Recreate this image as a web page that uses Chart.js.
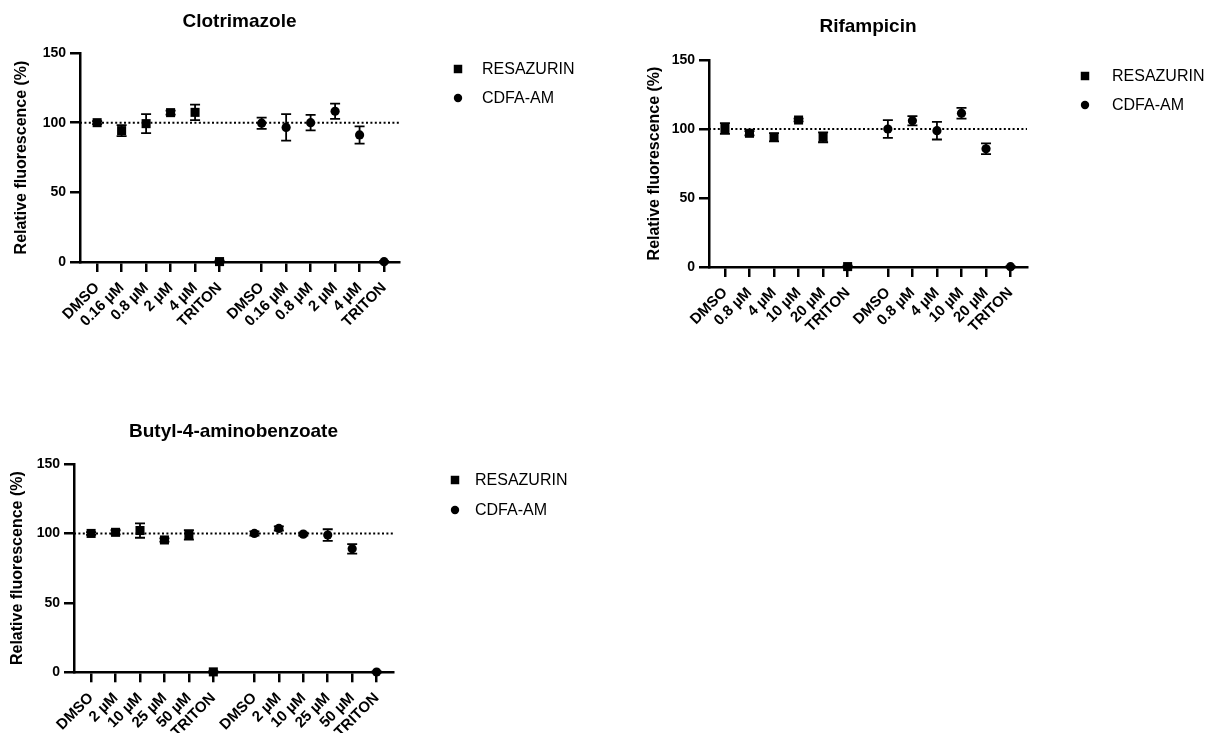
<!DOCTYPE html>
<html>
<head>
<meta charset="utf-8">
<script src="https://cdn.jsdelivr.net/npm/chart.js@4.4.0/dist/chart.umd.min.js"></script>
<style>
  html, body { margin: 0; padding: 0; background: #fff; }
  body { width: 1209px; height: 733px; position: relative; overflow: hidden; }
  .box { position: absolute; }
</style>
</head>
<body>
<div class="box" style="left:0;top:0;width:620px;height:350px"><canvas id="c1"></canvas></div>
<div class="box" style="left:630px;top:0;width:579px;height:350px"><canvas id="c2"></canvas></div>
<div class="box" style="left:0;top:380px;width:620px;height:353px"><canvas id="c3"></canvas></div>
<script>
// ---------------- data ----------------
const seriesNames = ['RESAZURIN', 'CDFA-AM'];
const yTickValues = [0, 50, 100, 150];
const yAxisTitle = 'Relative fluorescence (%)';
const referenceLevel = 100;

const clotrimazoleTitle = 'Clotrimazole';
const clotrimazoleLabels = ['DMSO', '0.16 µM', '0.8 µM', '2 µM', '4 µM', 'TRITON'];
const clotrimazoleResazurin = [100, 94.3, 99.3, 107.2, 107.4, 0.3];
const clotrimazoleResazurinErr = [1, 4, 6.8, 1.5, 5.6, 0.6];
const clotrimazoleCdfa = [99.6, 96.6, 100, 108.2, 91.2, 0.2];
const clotrimazoleCdfaErr = [4, 9.5, 5.6, 5.5, 6.2, 0.4];

const rifampicinTitle = 'Rifampicin';
const rifampicinLabels = ['DMSO', '0.8 µM', '4 µM', '10 µM', '20 µM', 'TRITON'];
const rifampicinResazurin = [100.4, 96.9, 94, 106.5, 94, 0.3];
const rifampicinResazurinErr = [3.9, 1.5, 3, 1, 3.6, 0.6];
const rifampicinCdfa = [100, 106, 98.8, 111.4, 85.7, 0.2];
const rifampicinCdfaErr = [6.4, 3.4, 6.4, 3.9, 3.9, 0.4];

const butylTitle = 'Butyl-4-aminobenzoate';
const butylLabels = ['DMSO', '2 µM', '10 µM', '25 µM', '50 µM', 'TRITON'];
const butylResazurin = [100, 100.8, 102.1, 95.3, 99, 0.3];
const butylResazurinErr = [1, 1.5, 5.2, 1.2, 3.4, 0.6];
const butylCdfa = [100, 103.6, 99.5, 98.8, 88.9, 0.2];
const butylCdfaErr = [1.5, 1.5, 1, 4.2, 3.4, 0.4];

// ---------------- rendering ----------------
const FONT = "'Liberation Sans', Arial, Helvetica, sans-serif";
Chart.defaults.font.family = FONT;
Chart.defaults.color = '#000';

const errorBarPlugin = {
  id: 'errorBars',
  beforeDatasetsDraw(chart) {
    const { ctx } = chart;
    const xs = chart.scales.x, ys = chart.scales.y;
    ctx.save();
    ctx.strokeStyle = '#000';
    ctx.lineWidth = 1.8;
    chart.data.datasets.forEach(ds => {
      if (!ds.errors) return;
      ds.data.forEach((p, i) => {
        const e = ds.errors[i];
        if (!e) return;
        const px = xs.getPixelForValue(p.x);
        const yt = ys.getPixelForValue(p.y + e);
        const yb = ys.getPixelForValue(p.y - e);
        ctx.beginPath();
        ctx.moveTo(px, yt); ctx.lineTo(px, yb);
        ctx.moveTo(px - 5, yt); ctx.lineTo(px + 5, yt);
        ctx.moveTo(px - 5, yb); ctx.lineTo(px + 5, yb);
        ctx.stroke();
      });
    });
    ctx.restore();
  }
};

function drawMarker(ctx, style, radius, x, y) {
  ctx.fillStyle = '#000';
  if (Chart.helpers && Chart.helpers.drawPoint) {
    Chart.helpers.drawPoint(ctx, { pointStyle: style, radius: radius, rotation: 0, borderWidth: 0 }, x, y);
  } else {
    ctx.beginPath();
    if (style === 'rect') {
      const s = radius * Math.SQRT1_2;
      ctx.rect(x - s, y - s, 2 * s, 2 * s);
    } else {
      ctx.arc(x, y, radius, 0, Math.PI * 2);
    }
    ctx.fill();
  }
}

const sideLegendPlugin = {
  id: 'sideLegend',
  afterDraw(chart, args, opts) {
    const { ctx, chartArea } = chart;
    const x0 = chartArea.right + opts.dx;
    let y = chartArea.top + opts.dy;
    ctx.save();
    ctx.font = '16px ' + FONT;
    ctx.textBaseline = 'middle';
    ctx.textAlign = 'left';
    chart.data.datasets.forEach(ds => {
      if (!ds.inLegend) return;
      drawMarker(ctx, ds.pointStyle, ds.legendRadius, x0, y);
      ctx.fillStyle = '#000';
      ctx.fillText(ds.label, x0 + opts.textGap, y + 0.5);
      y += opts.spacing;
    });
    ctx.restore();
  }
};

function buildChart(id, spec) {
  const n = spec.labels.length;
  const toPoints = (vals, g) => vals.map((v, i) => ({ x: g * spec.groupGap + i, y: v }));
  const tickPositions = [];
  const tickLabels = [];
  for (let g = 0; g < 2; g++) {
    for (let i = 0; i < n; i++) {
      tickPositions.push(g * spec.groupGap + i);
      tickLabels.push(spec.labels[i]);
    }
  }
  const axisGrid = { display: true, drawOnChartArea: false, drawTicks: true, tickLength: 10, tickWidth: 2.5, tickColor: '#000', color: '#000', lineWidth: 2.5 };
  const axisBorder = { display: true, width: 2.5, color: '#000' };
  new Chart(document.getElementById(id), {
    type: 'scatter',
    data: {
      datasets: [
        {
          label: 'reference', type: 'line',
          data: [{ x: spec.xMin, y: referenceLevel }, { x: spec.xMax, y: referenceLevel }],
          borderColor: '#000', borderWidth: 2, borderDash: [2, 2.4], pointRadius: 0,
          fill: false, order: 3, clip: false
        },
        {
          label: seriesNames[0], data: toPoints(spec.res, 0), errors: spec.resErr,
          pointStyle: 'rect', pointRadius: 6.4, backgroundColor: '#000', borderColor: '#000',
          borderWidth: 0, clip: false, order: 1, inLegend: true, legendRadius: 6
        },
        {
          label: seriesNames[1], data: toPoints(spec.cdfa, 1), errors: spec.cdfaErr,
          pointStyle: 'circle', pointRadius: 4.6, backgroundColor: '#000', borderColor: '#000',
          borderWidth: 0, clip: false, order: 1, inLegend: true, legendRadius: 4.2
        }
      ]
    },
    options: {
      responsive: true,
      maintainAspectRatio: false,
      animation: false,
      events: [],
      layout: { padding: spec.padding },
      plugins: {
        legend: { display: false },
        tooltip: { enabled: false },
        title: {
          display: true, text: spec.title, fullSize: false, color: '#000',
          font: { family: FONT, size: 19, weight: 'bold', lineHeight: 1.2 },
          padding: { top: 0, bottom: spec.titleGap }
        },
        sideLegend: spec.legend
      },
      scales: {
        x: {
          type: 'linear', min: spec.xMin, max: spec.xMax,
          afterBuildTicks: s => { s.ticks = tickPositions.map(v => ({ value: v })); },
          afterFit: s => { s.height = spec.xHeight; },
          ticks: {
            autoSkip: false, maxRotation: 45, minRotation: 45, padding: 7, color: '#000',
            font: { family: FONT, size: 15, weight: 'bold' },
            callback: (v, i) => tickLabels[i]
          },
          grid: axisGrid, border: axisBorder
        },
        y: {
          type: 'linear', min: 0, max: 150,
          afterBuildTicks: s => { s.ticks = yTickValues.map(v => ({ value: v })); },
          afterFit: s => { s.width = spec.yWidth; },
          ticks: { padding: 4, color: '#000', font: { family: FONT, size: 14, weight: 'bold' } },
          title: {
            display: true, text: yAxisTitle, color: '#000',
            font: { family: FONT, size: 16, weight: 'bold', lineHeight: 1.2 },
            padding: { top: spec.yTitlePad, bottom: 0 }
          },
          grid: axisGrid, border: axisBorder
        }
      }
    },
    plugins: [errorBarPlugin, sideLegendPlugin]
  });
}

buildChart('c1', {
  title: clotrimazoleTitle, labels: clotrimazoleLabels,
  res: clotrimazoleResazurin, resErr: clotrimazoleResazurinErr,
  cdfa: clotrimazoleCdfa, cdfaErr: clotrimazoleCdfaErr,
  groupGap: 6.72, xMin: -0.70, xMax: 12.33,
  padding: { top: 10.6, left: 0, right: 221, bottom: 0 },
  titleGap: 19.6, yWidth: 80, xHeight: 88, yTitlePad: 12.4,
  legend: { dx: 59, dy: 16, spacing: 29, textGap: 24 }
});

buildChart('c2', {
  title: rifampicinTitle, labels: rifampicinLabels,
  res: rifampicinResazurin, resErr: rifampicinResazurinErr,
  cdfa: rifampicinCdfa, cdfaErr: rifampicinCdfaErr,
  groupGap: 6.64, xMin: -0.65, xMax: 12.31,
  padding: { top: 15.6, left: 0, right: 182, bottom: 0 },
  titleGap: 21.6, yWidth: 79, xHeight: 83, yTitlePad: 15.4,
  legend: { dx: 58, dy: 16, spacing: 29, textGap: 27 }
});

buildChart('c3', {
  title: butylTitle, labels: butylLabels,
  res: butylResazurin, resErr: butylResazurinErr,
  cdfa: butylCdfa, cdfaErr: butylCdfaErr,
  groupGap: 6.68, xMin: -0.70, xMax: 12.35,
  padding: { top: 40.6, left: 0, right: 227, bottom: 0 },
  titleGap: 20.6, yWidth: 74, xHeight: 60.7, yTitlePad: 8.4,
  legend: { dx: 62, dy: 16, spacing: 30, textGap: 20 }
});
</script>
</body>
</html>
